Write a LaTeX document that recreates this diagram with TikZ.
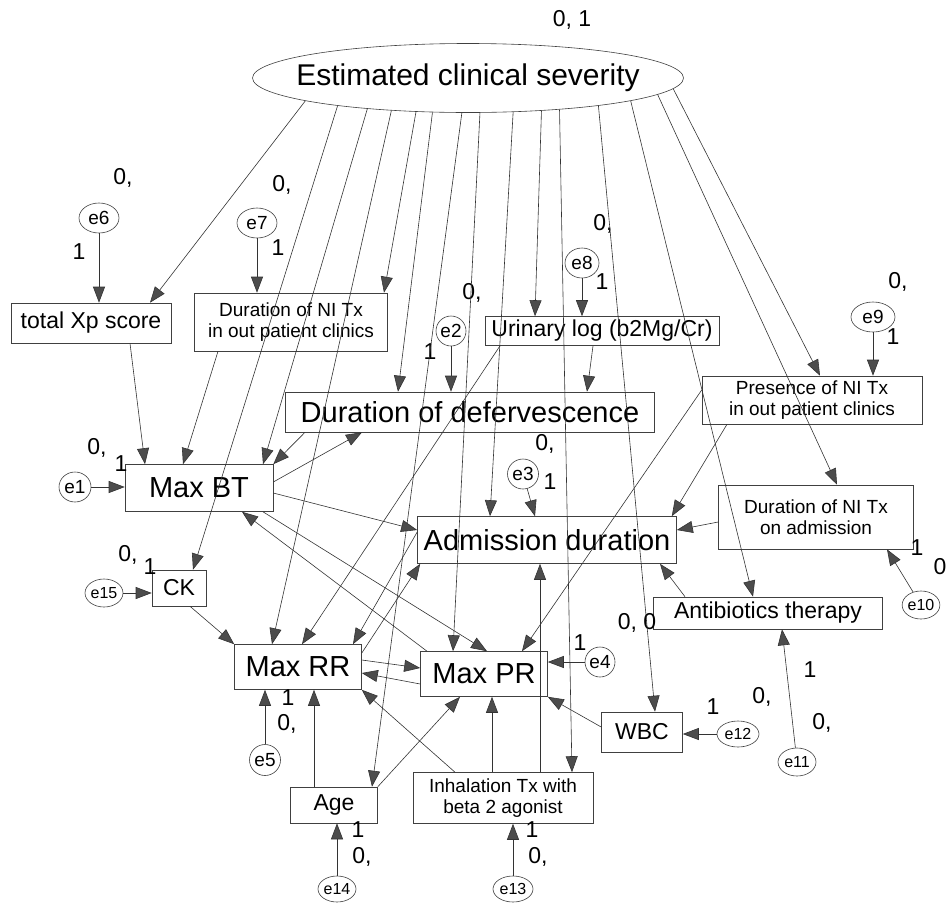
\documentclass[tikz,border=0pt]{standalone}
\usepackage{fontspec}
\setmainfont{Liberation Sans}
\usetikzlibrary{arrows.meta,shapes.geometric}

\begin{document}
\begin{tikzpicture}[x=1pt,y=-1pt,
  var/.style={draw=black!75, line width=0.6pt, rectangle, inner sep=0pt, align=center},
  big/.style={font=\fontsize{29}{32}\selectfont},
  mid/.style={font=\fontsize{23}{26}\selectfont},
  small/.style={font=\fontsize{19}{21}\selectfont},
  err/.style={draw=black!75, line width=0.6pt, ellipse, inner sep=0pt, font=\fontsize{19}{21}\selectfont},
  errs/.style={err, font=\fontsize{16}{18}\selectfont},
  coef/.style={font=\fontsize{23}{26}\selectfont, inner sep=0pt},
  arr/.style={draw=black!80, line width=0.6pt, -{Triangle[length=16pt,width=12pt,fill=black!70]}}]
\useasboundingbox (0,0) rectangle (948,903);

% Set the latent variable and the observed variables
\node[draw=black!75, line width=0.6pt, ellipse, inner xsep=-25pt, inner ysep=0pt,
  minimum width=431pt, minimum height=69pt, font=\fontsize{30}{32}\selectfont] (sev) at (468,78) {Estimated clinical severity};
\node[var, mid, minimum width=160pt, minimum height=40pt] (xp) at (91,323) {total Xp score};
\node[var, small, minimum width=193pt, minimum height=58pt] (nicl) at (291,322) {Duration of NI Tx\\in out patient clinics};
\node[var, big, minimum width=148pt, minimum height=47pt] (bt) at (199,488) {Max BT};
\node[var, big, minimum width=369pt, minimum height=40pt] (defe) at (470,412) {Duration of defervescence};
\node[var, mid, minimum width=234pt, minimum height=29pt] (urin) at (602,331) {Urinary log (b2Mg/Cr)};
\node[var, small, minimum width=220pt, minimum height=48pt] (pres) at (812,400) {Presence of NI Tx\\in out patient clinics};
\node[var, small, minimum width=195pt, minimum height=64pt] (nadm) at (816,517) {Duration of NI Tx\\on admission};
\node[var, big, minimum width=259pt, minimum height=47pt] (adm) at (547,540) {Admission duration};
\node[var, mid, minimum width=229pt, minimum height=32pt] (anti) at (768,613) {Antibiotics therapy};
\node[var, mid, minimum width=54pt, minimum height=36pt] (ck) at (179,588) {CK};
\node[var, big, minimum width=127pt, minimum height=45pt] (rr) at (298,667) {Max RR};
\node[var, big, minimum width=127pt, minimum height=45pt] (pr) at (484,674) {Max PR};
\node[var, mid, minimum width=81pt, minimum height=40pt] (wbc) at (642,732) {WBC};
\node[var, mid, minimum width=87pt, minimum height=36pt] (age) at (334,805) {Age};
\node[var, small, minimum width=180pt, minimum height=51pt] (inh) at (503,798) {Inhalation Tx with\\beta 2 agonist};

% Error terms
\node[err, minimum width=40pt, minimum height=30pt] (e6) at (99,218) {e6};
\node[err, minimum width=40pt, minimum height=30pt] (e7) at (257,223) {e7};
\node[err, minimum width=32pt, minimum height=30pt] (e1) at (75,487) {e1};
\node[err, minimum width=30pt, minimum height=30pt] (e2) at (451,331) {e2};
\node[err, minimum width=34pt, minimum height=30pt] (e8) at (582,263) {e8};
\node[err, minimum width=31pt, minimum height=30pt] (e3) at (523,474) {e3};
\node[err, minimum width=44pt, minimum height=30pt] (e9) at (873,317) {e9};
\node[err, minimum width=31pt, minimum height=31pt] (e5) at (265,760) {e5};
\node[err, minimum width=30pt, minimum height=30pt] (e4) at (600,662) {e4};
\node[errs, minimum width=30pt, minimum height=28pt] (e10) at (921,605) {e10};
\node[errs, minimum width=38pt, minimum height=28pt] (e15) at (104,593) {e15};
\node[errs, minimum width=42pt, minimum height=26pt] (e12) at (738,734) {e12};
\node[errs, minimum width=38pt, minimum height=28pt] (e11) at (797,762) {e11};
\node[errs, minimum width=38pt, minimum height=26pt] (e14) at (337,889) {e14};
\node[errs, minimum width=40pt, minimum height=26pt] (e13) at (513,889) {e13};

% Insert the estimates
\node[coef] (c0) at (572,20) {0, 1};
\node[coef] (c6a) at (123,178) {0,};
\node[coef] (c6b) at (79,252) {1};
\node[coef] (c7a) at (282,185) {0,};
\node[coef] (c7b) at (278,248) {1};
\node[coef] (c2a) at (472,293) {0,};
\node[coef] (c2b) at (430,352) {1};
\node[coef] (c8a) at (603,224) {0,};
\node[coef] (c8b) at (602,282) {1};
\node[coef] (c9a) at (898,282) {0,};
\node[coef] (c9b) at (893,337) {1};
\node[coef] (c1a) at (97,448) {0,};
\node[coef] (c1b) at (121,464) {1};
\node[coef] (c3a) at (545,444) {0,};
\node[coef] (c3b) at (550,482) {1};
\node[coef] (c15a) at (128,555) {0,};
\node[coef] (c15b) at (150,567) {1};
\node[coef] (c10a) at (917,548) {1};
\node[coef] (c10b) at (940,567) {0};
\node[coef] (c4a) at (580,643) {1};
\node[coef] (c4b) at (637,623) {0, 0};
\node[coef] (c12a) at (713,707) {1};
\node[coef] (c12b) at (762,697) {0,};
\node[coef] (c11a) at (810,670) {1};
\node[coef] (c11b) at (822,723) {0,};
\node[coef] (c5a) at (288,698) {1};
\node[coef] (c5b) at (287,724) {0,};
\node[coef] (c14a) at (358,830) {1};
\node[coef] (c14b) at (362,857) {0,};
\node[coef] (c13a) at (532,830) {1};
\node[coef] (c13b) at (538,857) {0,};

% Paths from the latent variable
\draw[arr] (sev.188) -- ([xshift=59pt]xp.north);
\draw[arr] (sev.192) -- ([xshift=14pt]ck.north);
\draw[arr] (sev.197) -- ([xshift=64pt]bt.north);
\draw[arr] (sev.203) -- ([xshift=-26pt]rr.north);
\draw[arr] (sev.213) -- ([xshift=93pt]nicl.north);
\draw[arr] (sev.224) -- ([xshift=-72pt]defe.north);
\draw[arr] (sev.260) -- ([xshift=38pt]age.north);
\draw[arr] (sev.289) -- ([xshift=-31pt]pr.north);
\draw[arr] (sev.323) -- ([xshift=-57pt]adm.north);
\draw[arr] (sev.336) -- ([xshift=-67pt]urin.north);
\draw[arr] (sev.341) -- ([xshift=69pt]inh.north);
\draw[arr] (sev.348) -- ([xshift=13pt]wbc.north);
\draw[arr] (sev.352) -- ([xshift=-15pt]anti.north);
\draw[arr] (sev.355) -- ([xshift=21pt]nadm.north);
\draw[arr] (sev.357) -- ([xshift=8pt]pres.north);

% Paths from the error terms
\draw[arr] (e6) -- (e6 |- xp.north);
\draw[arr] (e7) -- (e7 |- nicl.north);
\draw[arr] (e1) -- (e1 -| bt.west);
\draw[arr] (e2) -- (e2 |- defe.north);
\draw[arr] (e8) -- (e8 |- urin.north);
\draw[arr] (e3) -- ([xshift=-12pt]adm.north);
\draw[arr] (e9) -- (e9 |- pres.north);
\draw[arr] (e10) -- ([xshift=71pt]nadm.south);
\draw[arr] (e15) -- (e15 -| ck.west);
\draw[arr] (e5) -- (e5 |- rr.south);
\draw[arr] (e4) -- (e4 -| pr.east);
\draw[arr] (e12) -- (e12 -| wbc.east);
\draw[arr] (e11) -- ([xshift=14pt]anti.south);
\draw[arr] (e14) -- (e14 |- age.south);
\draw[arr] (e13) -- (e13 |- inh.south);

% Paths between the observed variables
\draw[arr] ([xshift=39pt]xp.south) -- ([xshift=-54pt]bt.north);
\draw[arr] ([xshift=-73pt]nicl.south) -- ([xshift=-16pt]bt.north);
\draw[arr] ([xshift=-165pt]defe.south) -- (bt.north east);
\draw[arr] ([yshift=6pt]bt.east) -- ([xshift=-108pt]defe.south);
\draw[arr] ([yshift=-5pt]bt.east) -- ([yshift=10pt]adm.west);
\draw[arr] ([xshift=64pt]bt.south) -- ([xshift=3pt]pr.north);
\draw[arr] ([xshift=-57pt]pr.north) -- ([xshift=43pt]bt.south);
\draw[arr] ([xshift=-9pt]urin.south) -- ([xshift=117pt]defe.north);
\draw[arr] ([xshift=-102pt]urin.south) -- ([xshift=4pt]rr.north);
\draw[arr] ([xshift=-85pt]pres.south) -- ([xshift=-5pt]adm.north east);
\draw[arr] ([yshift=10pt]pres.west) -- ([xshift=38pt]pr.north);
\draw[arr] ([yshift=-5pt]nadm.west) -- ([yshift=10pt]adm.east);
\draw[arr] ([xshift=-83pt]anti.north) -- ([xshift=113pt]adm.south);
\draw[arr] ([xshift=11pt]ck.south) -- (rr.north west);
\draw[arr] ([yshift=14pt]rr.east) -- ([xshift=3pt]adm.south west);
\draw[arr] ([yshift=8pt]adm.west) -- ([xshift=55pt]rr.north);
\draw[arr] ([yshift=7pt]rr.east) -- ([yshift=6pt]pr.west);
\draw[arr] ([yshift=-10pt]pr.west) -- ([yshift=-6pt]rr.east);
\draw[arr] ([yshift=5pt]wbc.west) -- (pr.south east);
\draw[arr] ([xshift=-20pt]age.north) -- ([xshift=-20pt]age.north |- rr.south);
\draw[arr] (age.north east) -- ([xshift=-24pt]pr.south);
\draw[arr] ([xshift=-11pt]inh.north) -- ([xshift=-11pt]inh.north |- pr.south);
\draw[arr] ([xshift=37pt]inh.north) -- ([xshift=37pt]inh.north |- adm.south);
\draw[arr] ([xshift=-48pt]inh.north) -- (rr.south east);
\end{tikzpicture}
\end{document}
